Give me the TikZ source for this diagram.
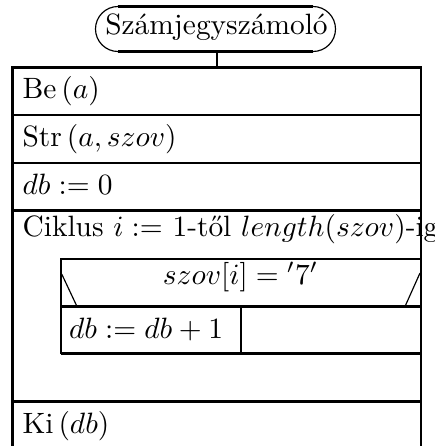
\documentclass[tikz,border=0pt]{standalone}
\usepackage{fontspec}
\begin{document}
\begin{tikzpicture}[x=0.34pt,y=-0.34pt,
  frame/.style={line width=0.95pt},
  sep/.style={line width=0.7pt},
  thinl/.style={line width=0.4pt},
  txt/.style={anchor=base west,inner sep=0pt},
  ctxt/.style={anchor=base,inner sep=0pt}]
\useasboundingbox (0,0) rectangle (434,446);
% terminal
\node[inner sep=0pt,anchor=base] (title) at (216.5,35) {Számjegyszámoló};
\draw[line width=1.1pt] (118,6.5) -- (313,6.5);
\draw[line width=1.1pt] (118,51.5) -- (313,51.5);
\draw[thinl] (118,6.5) arc[start angle=90,end angle=270,radius=7.65pt];
\draw[thinl] (313,6.5) arc[start angle=90,end angle=-90,radius=7.65pt];
\coordinate (tb) at (217.3,51.5);
\coordinate (ft) at (217.3,67.5);
\draw[sep] (tb) -- (ft);
% outer frame
\draw[frame] (12.5,446) -- (12.5,67.5) -- (421,67.5) -- (421,446);
\foreach \yy in {115,163,210.5,401.5} \draw[sep] (12.5,\yy) -- (421,\yy);
% inner box
\draw[sep] (60.7,353.5) -- (60.7,259) -- (421,259);
\draw[sep] (60.7,306.5) -- (421,306.5);
\draw[sep] (60.7,353.5) -- (421,353.5);
\draw[sep] (240.7,306.5) -- (240.7,353.5);
\draw[thinl] (61.7,274) -- (77,306.5);
\draw[thinl] (420,273) -- (405,306.5);
% texts
\node[txt] (be) at (22,98.5) {Be\,$(a)$};
\node[txt] (str) at (22,146.5) {Str\,$(a, szov)$};
\node[txt] (db0) at (22,194.5) {$db := 0$};
\node[txt] (cik) at (22,236.5) {Ciklus $i := $ 1-től $length(szov)$-ig};
\node[ctxt] (cond) at (240.5,284.5) {$szov[i] = {}'7'$};
\node[txt] (inc) at (68.5,338.5) {$db := db + 1$};
\node[txt] (ki) at (22,433) {Ki\,$(db)$};
\end{tikzpicture}
\end{document}
